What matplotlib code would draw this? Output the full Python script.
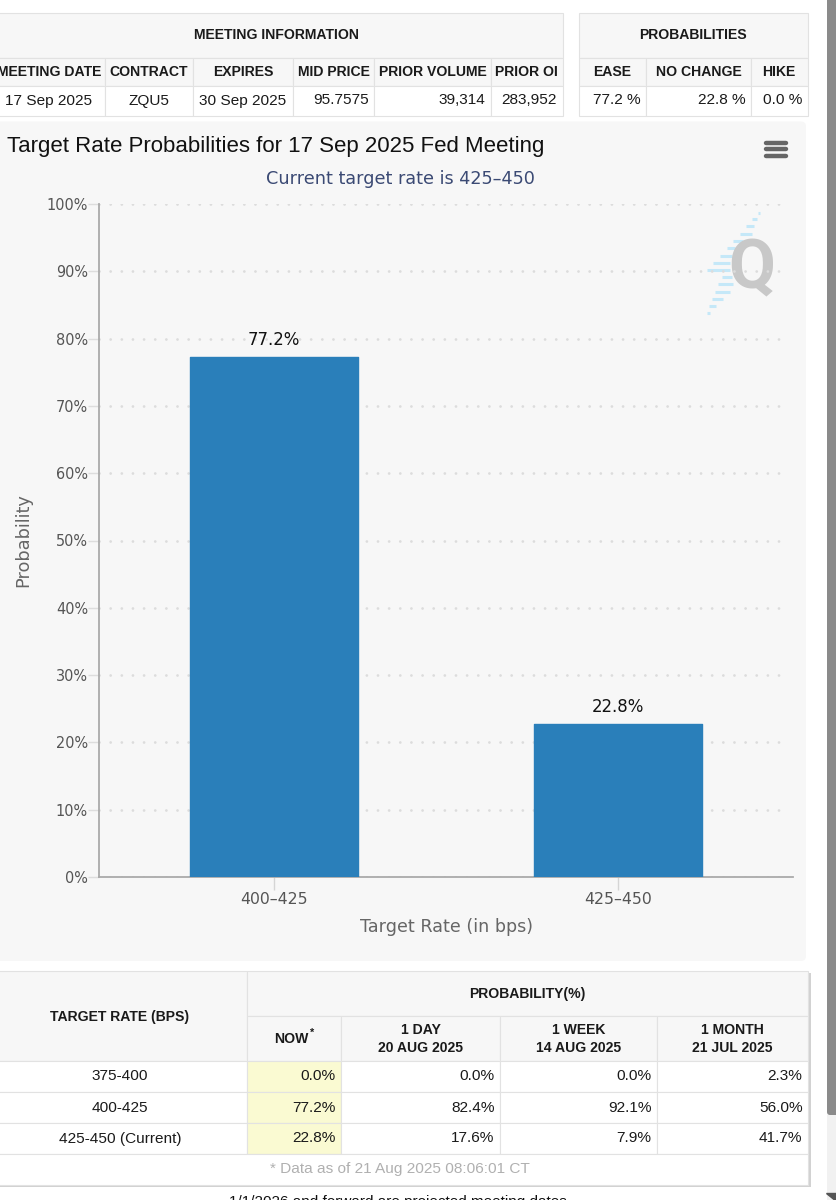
#!/usr/bin/env python3
"""Target rate probabilities page: info tables around a bar chart."""

import matplotlib
matplotlib.use('Agg')
import matplotlib.pyplot as plt
from matplotlib.patches import Rectangle, FancyBboxPatch
from matplotlib.ticker import FuncFormatter

# ============================================================================
# DATA
# ============================================================================

rate_labels = ['400-425', '425-450']
rate_probs = [77.2, 22.8]
y_ticks = [0, 10, 20, 30, 40, 50, 60, 70, 80, 90, 100]

meeting_headers = ['MEETING DATE', 'CONTRACT', 'EXPIRES', 'MID PRICE', 'PRIOR VOLUME', 'PRIOR OI']
meeting_values = ['17 Sep 2025', 'ZQU5', '30 Sep 2025', '95.7575', '39,314', '283,952']
prob_headers = ['EASE', 'NO CHANGE', 'HIKE']
prob_values = ['77.2 %', '22.8 %', '0.0 %']

history_headers = ['1 DAY\n20 AUG 2025', '1 WEEK\n14 AUG 2025', '1 MONTH\n21 JUL 2025']
history_rates = ['375-400', '400-425', '425-450 (Current)']
now_values = ['0.0%', '77.2%', '22.8%']
day_values = ['0.0%', '82.4%', '17.6%']
week_values = ['0.0%', '92.1%', '7.9%']
month_values = ['2.3%', '56.0%', '41.7%']

TABLE_FONT = 'Liberation Sans'
CHART_FONT = 'DejaVu Sans'
BORDER = '#e2e2e2'
HEAD_BG = '#f7f7f7'
BAR_COLOR = '#2a7fba'


def px(size):
    """Font size in pixels to points at dpi 100."""
    return size * 0.72


def cell(ax, x0, x1, y0, y1, bg='white'):
    ax.add_patch(Rectangle((x0, y0), x1 - x0, y1 - y0, facecolor=bg,
                           edgecolor=BORDER, linewidth=0.8, zorder=2))


def label(ax, x, y, s, size=15.4, weight='normal', ha='center', color='#1a1a1a'):
    ax.text(x, y, s, fontsize=px(size), fontweight=weight, ha=ha, va='center',
            family=TABLE_FONT, color=color, zorder=4, linespacing=1.3)


# ============================================================================
# Page background in pixel coordinates
# ============================================================================

fig = plt.figure(figsize=(8.36, 12), dpi=100, facecolor='white')
page = fig.add_axes([0, 0, 1, 1], zorder=0)
page.set_xlim(0, 836)
page.set_ylim(1200, 0)
page.axis('off')

# Top left table
meeting_x = [-10, 105, 192.5, 293, 374, 490.5, 562.5]
meeting_centers = [49, 149, 243, 333.5, 432.5, 526.5]
cell(page, -10, 562.5, 12.5, 58, HEAD_BG)
label(page, 277, 35, 'MEETING INFORMATION', size=14, weight='bold')
for i, (head, val) in enumerate(zip(meeting_headers, meeting_values)):
    cell(page, meeting_x[i], meeting_x[i + 1], 58, 85.5, HEAD_BG)
    cell(page, meeting_x[i], meeting_x[i + 1], 85.5, 116)
    label(page, meeting_centers[i], 72, head, size=14, weight='bold')
    if i < 3:
        label(page, meeting_centers[i], 100.5, val)
    else:
        label(page, meeting_x[i + 1] - 5.5, 100.5, val, ha='right')

# Top right table
prob_x = [578.5, 646, 751, 808]
prob_centers = [612.5, 698.5, 779]
cell(page, 578.5, 808, 12.5, 58, HEAD_BG)
label(page, 693, 35, 'PROBABILITIES', size=14, weight='bold')
for i, (head, val) in enumerate(zip(prob_headers, prob_values)):
    cell(page, prob_x[i], prob_x[i + 1], 58, 85.5, HEAD_BG)
    cell(page, prob_x[i], prob_x[i + 1], 85.5, 116)
    label(page, prob_centers[i], 72, head, size=14, weight='bold')
    label(page, prob_x[i + 1] - 5.5, 100.5, val, ha='right')

# Chart panel
page.add_patch(FancyBboxPatch((-10, 121.5), 816, 839.5,
                              boxstyle='round,pad=0,rounding_size=5',
                              facecolor='#f7f7f7', edgecolor='none', zorder=1))
page.text(7, 146.5, 'Target Rate Probabilities for 17 Sep 2025 Fed Meeting',
          fontsize=px(22.3), family=TABLE_FONT, color='#111111', va='center', zorder=4)
page.text(400, 178.5, 'Current target rate is 425-450'.replace('-', '\u2013'),
          fontsize=px(17.6), family=CHART_FONT, color='#3b4a74', ha='center', va='center',
          zorder=4)

# Menu icon
for y in [142.5, 149, 155.5]:
    page.plot([765.5, 785.5], [y, y], color='#666666', lw=3.2, solid_capstyle='round', zorder=4)

# Watermark
stripes = [(758, 760, 213), (752, 757, 219), (746, 754, 226), (740, 752, 234),
           (733, 743, 241), (727, 735, 248), (720, 732, 256), (713, 730, 263),
           (707, 730, 270), (722, 732, 277), (718, 733, 284), (715, 730, 292),
           (712, 723, 299), (709, 716, 306), (707, 710, 313)]
for x0, x1, y in stripes:
    page.plot([x0, x1], [y, y], color='#c5e8f8', lw=2.2, solid_capstyle='butt', zorder=2)
page.text(752, 270, 'Q', fontsize=px(68), fontweight='bold', family='Roboto',
          color='#c8c8c8', ha='center', va='center', zorder=3)

# Bottom table
hist_x = [247, 341, 500, 657, 808]
page.add_patch(Rectangle((-10, 973), 820.5, 214, facecolor='#d2d2d2', edgecolor='none', zorder=1))
cell(page, -10, 247, 970.5, 1060.5, HEAD_BG)
cell(page, 247, 808, 970.5, 1016, HEAD_BG)
label(page, 120, 1016.5, 'TARGET RATE (BPS)', size=14, weight='bold')
label(page, 527, 994, 'PROBABILITY(%)', size=14, weight='bold')
cell(page, hist_x[0], hist_x[1], 1016, 1060.5, HEAD_BG)
label(page, 291, 1039, 'NOW', size=14, weight='bold')
label(page, 312, 1033, '*', size=11, weight='bold')
for i, head in enumerate(history_headers):
    cell(page, hist_x[i + 1], hist_x[i + 2], 1016, 1060.5, HEAD_BG)
    label(page, (hist_x[i + 1] + hist_x[i + 2]) / 2, 1039, head, size=14, weight='bold')

row_y = [1060.5, 1091.5, 1122.5, 1153.5]
columns = [now_values, day_values, week_values, month_values]
for r, rate in enumerate(history_rates):
    top, bottom = row_y[r], row_y[r + 1]
    mid = (top + bottom) / 2 + 0.5
    cell(page, -10, 247, top, bottom)
    label(page, 120, mid, rate)
    for c, values in enumerate(columns):
        cell(page, hist_x[c], hist_x[c + 1], top, bottom, '#fafad2' if c == 0 else 'white')
        label(page, hist_x[c + 1] - 5.5, mid, values[r], ha='right')
cell(page, -10, 808, 1153.5, 1184.5)
label(page, 400, 1168.5, '* Data as of 21 Aug 2025 08:06:01 CT', color='#b0b0b0')
label(page, 400, 1202, '1/1/2026 and forward are projected meeting dates.', size=15.3, color='#111111')

# Scrollbar
page.add_patch(Rectangle((827, 0), 9, 1200, facecolor='#f1f1f1', edgecolor='none', zorder=5))
page.add_patch(FancyBboxPatch((827, -10), 12, 1125, boxstyle='round,pad=0,rounding_size=3',
                              facecolor='#8a8a8a', edgecolor='none', zorder=6))
page.fill([826, 836, 836], [1193, 1193, 1201], color='#555555', zorder=6)

# ============================================================================
# Bar chart
# ============================================================================

ax = fig.add_axes([99 / 836, 1 - 877 / 1200, 694 / 836, 673 / 1200], zorder=1)
ax.patch.set_alpha(0)

positions = list(range(len(rate_labels)))
bars = ax.bar(positions, rate_probs, width=0.486, color=BAR_COLOR, edgecolor=BAR_COLOR,
              linewidth=1.0, joinstyle='round', zorder=3)
for bar, value in zip(bars, rate_probs):
    ax.annotate(f'{value}%', (bar.get_x() + bar.get_width() / 2, value),
                xytext=(0, 8), textcoords='offset pixels', ha='center', va='bottom',
                fontsize=px(16.5), color='#111111', family=CHART_FONT)

ax.set_xlim(-0.509, 1.509)
ax.set_ylim(0, 100)
ax.set_xticks(positions)
ax.set_xticklabels([s.replace('-', '\u2013') for s in rate_labels])
ax.set_yticks(y_ticks)
ax.yaxis.set_major_formatter(FuncFormatter(lambda v, _: f'{v:.0f}%'))

ax.tick_params(axis='y', length=8, width=1, color='#dddddd', pad=0,
               labelsize=px(14.5), labelcolor='#555555')
ax.tick_params(axis='x', length=9.5, width=1, color='#d5d5d5', pad=1,
               labelsize=px(15.7), labelcolor='#555555')

# Dotted gridlines stop a little short of the axis end
ax.hlines(y_ticks, 0, 0.988, transform=ax.get_yaxis_transform(), color='#dcdcdc',
          linewidth=2.0, linestyles=[(4, (0.01, 4.0))], capstyle='round', zorder=1)

for side in ['top', 'right']:
    ax.spines[side].set_visible(False)
for side in ['left', 'bottom']:
    ax.spines[side].set_color('#aaaaaa')
    ax.spines[side].set_linewidth(1.3)

ax.set_xlabel('Target Rate (in bps)', fontsize=px(17.5), color='#666666', labelpad=8)
ax.set_ylabel('Probability', fontsize=px(17.8), color='#666666')
ax.yaxis.set_label_coords((32 - 99) / 694, 0.5)

plt.savefig('out.png', dpi=100, facecolor='white')
plt.close()
